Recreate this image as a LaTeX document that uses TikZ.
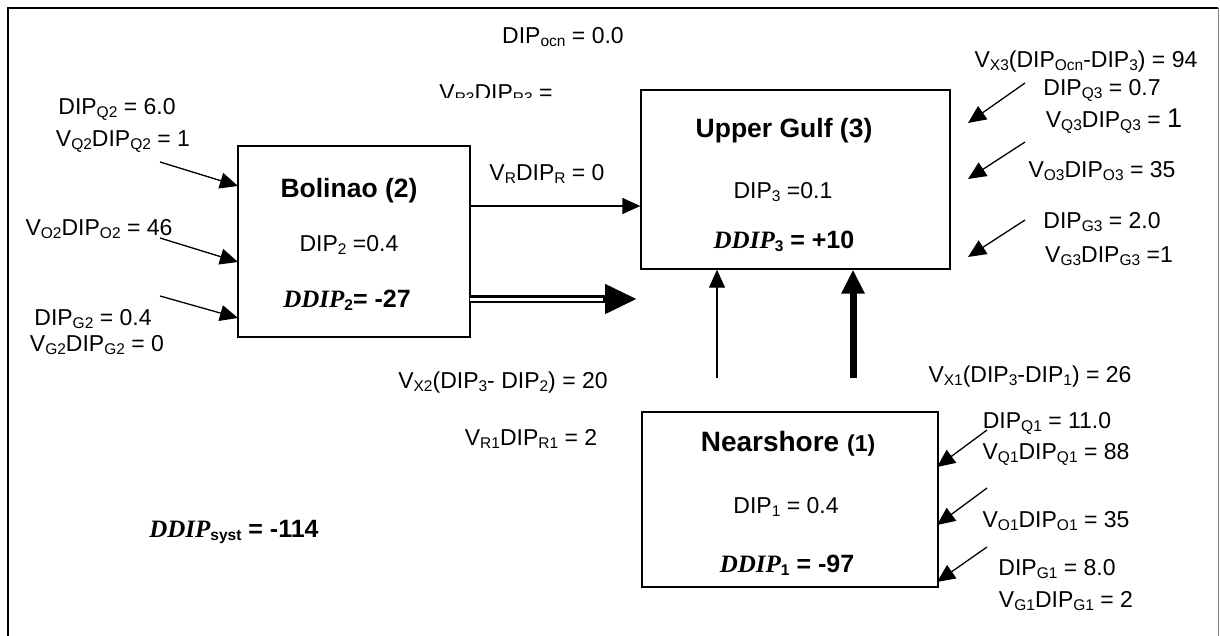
\documentclass[tikz,border=0pt]{standalone}
\usepackage{fontspec}
\setmainfont{Liberation Sans}
\newfontfamily\tnr{Liberation Serif}
\usetikzlibrary{calc,arrows.meta}

\newcommand{\sbs}[1]{\raisebox{-0.3ex}{\fontsize{15.5}{15.5}\selectfont #1}}
\newcommand{\ddip}{{\tnr\bfseries\itshape DDIP}}

\tikzset{
  box/.style={draw, line width=1.3pt, inner sep=0pt},
  lbl/.style={font=\fontsize{23}{27}\selectfont, inner sep=0pt, anchor=base},
  head/.style={font=\fontsize{26.5}{31}\selectfont\bfseries, inner sep=0pt, anchor=base},
  delta/.style={font=\fontsize{25}{30}\selectfont\bfseries, inner sep=0pt, anchor=base},
  flow/.style={line width=1.3pt, -{Triangle[length=18pt,width=16pt]}},
}

\begin{document}
\begin{tikzpicture}[x=1pt, y=-1pt]
    \useasboundingbox (0,0) rectangle (1220,635);

    % frame
    \draw[line width=2.5pt] (8,645) -- (8,8) -- (1218,8);
    \draw[gray, line width=0.8pt] (1218,8) -- (1218,645);

    % boxes
    \node[box, minimum width=232pt, minimum height=191pt] (bol) at (354,241.5) {};
    \node[box, minimum width=309pt, minimum height=179pt] (ug) at (795.5,179.5) {};
    \node[box, minimum width=296pt, minimum height=175pt] (ns) at (790,499.5) {};

    % text in the boxes
    \node[head] (bolname) at (349,197) {Bolinao (2)};
    \node[lbl] (boldip) at (349,251) {DIP\sbs{2} =0.4};
    \node[delta] (boldd) at (347,307) {\ddip\sbs{2}= -27};
    \node[head] (ugname) at (784,137) {Upper Gulf (3)};
    \node[lbl] (ugdip) at (783,198) {DIP\sbs{3} =0.1};
    \node[delta] (ugdd) at (784,248) {\ddip\sbs{3} = +10};
    \node[head, font=\fontsize{28}{32}\selectfont\bfseries] (nsname) at (788,451) {Nearshore {\fontsize{23}{28}\selectfont(1)}};
    \node[lbl] (nsdip) at (786,513) {DIP\sbs{1} = 0.4};
    \node[delta] (nsdd) at (787,572) {\ddip\sbs{1} = -97};

    % coordinates to be reused
    \coordinate (q2s) at (160,162);  \coordinate (q2e) at (238,186);
    \coordinate (o2s) at (160,238);  \coordinate (o2e) at (238,262);
    \coordinate (g2s) at (160,296);  \coordinate (g2e) at (238,318);
    \coordinate (q3s) at (1025,83);  \coordinate (q3e) at (968,123);
    \coordinate (o3s) at (1025,142); \coordinate (o3e) at (968,179);
    \coordinate (g3s) at (1025,220); \coordinate (g3e) at (968,257);
    \coordinate (q1s) at (987,430);  \coordinate (q1e) at (937,467);
    \coordinate (o1s) at (987,488);  \coordinate (o1e) at (937,525);
    \coordinate (g1s) at (987,547);  \coordinate (g1e) at (937,582);
    \coordinate (rs) at (470,206);
    \coordinate (ds) at (470,299);   \coordinate (de) at (637,299);
    \coordinate (x2s) at (717,378);
    \coordinate (x1s) at (853,378);

    % arrows
    \foreach \a in {q2,o2,g2,q3,o3,g3,q1,o1,g1}
      \draw[flow] (\a s) -- (\a e);
    \draw[flow] (rs) -- (rs -| ug.west);
    \draw[line width=7.5pt, -{Triangle[length=32pt,width=28pt]}] (ds) -- (de);
    \draw[white, line width=3pt] (ds) -- ($(de)+(-34,0)$);
    \draw[flow] (x2s) -- (x2s |- ug.south);
    \draw[line width=7pt, -{Triangle[length=24pt,width=22pt]}] (x1s) -- (x1s |- ug.south);

    % add labels
    \node[lbl] (dipq2) at (117,114) {DIP\sbs{Q2} = 6.0};
    \node[lbl] (vq2) at (123,146) {V\sbs{Q2}DIP\sbs{Q2} = 1};
    \node[lbl] (vo2) at (99,235) {V\sbs{O2}DIP\sbs{O2} = 46};
    \node[lbl] (dipg2) at (93,325) {DIP\sbs{G2} = 0.4};
    \node[lbl] (vg2) at (97,351) {V\sbs{G2}DIP\sbs{G2} = 0};
    \node[lbl] (dipocn) at (563,43) {DIP\sbs{ocn} = 0.0};
    \begin{scope}
      \clip (400,60) rectangle (620,97);
      \node[lbl] (vr3) at (496,100) {V\sbs{R3}DIP\sbs{R3} =};
    \end{scope}
    \node[lbl] (vr) at (547,180) {V\sbs{R}DIP\sbs{R} = 0};
    \node[lbl] (vx3) at (1086,67) {V\sbs{X3}(DIP\sbs{Ocn}-DIP\sbs{3}) = 94};
    \node[lbl] (dipq3) at (1102,95) {DIP\sbs{Q3} = 0.7};
    \node[lbl] (vq3) at (1114,127) {V\sbs{Q3}DIP\sbs{Q3} = {\fontsize{27}{30}\selectfont 1}};
    \node[lbl] (vo3) at (1102,177) {V\sbs{O3}DIP\sbs{O3} = 35};
    \node[lbl] (dipg3) at (1102,228) {DIP\sbs{G3} = 2.0};
    \node[lbl] (vg3) at (1109,262) {V\sbs{G3}DIP\sbs{G3} =1};
    \node[lbl] (vx2) at (503,388) {V\sbs{X2}(DIP\sbs{3}- DIP\sbs{2}) = 20};
    \node[lbl] (vr1) at (531,445) {V\sbs{R1}DIP\sbs{R1} = 2};
    \node[lbl] (vx1) at (1030,382) {V\sbs{X1}(DIP\sbs{3}-DIP\sbs{1}) = 26};
    \node[lbl] (dipq1) at (1047,428) {DIP\sbs{Q1} = 11.0};
    \node[lbl] (vq1) at (1056,459) {V\sbs{Q1}DIP\sbs{Q1} = 88};
    \node[lbl] (vo1) at (1056,527) {V\sbs{O1}DIP\sbs{O1} = 35};
    \node[lbl] (dipg1) at (1057,575) {DIP\sbs{G1} = 8.0};
    \node[lbl] (vg1) at (1066,607) {V\sbs{G1}DIP\sbs{G1} = 2};
    \node[delta] (ddsyst) at (234,537) {\ddip\sbs{syst} = -114};
\end{tikzpicture}
\end{document}
